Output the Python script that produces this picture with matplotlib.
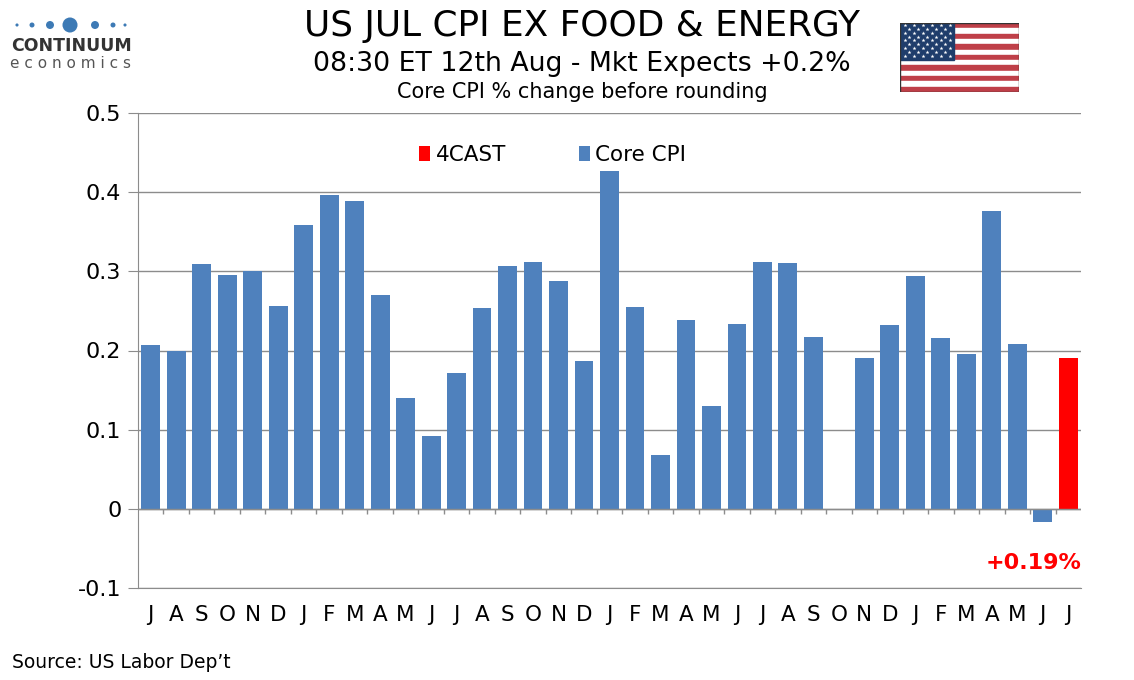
import numpy as np
import matplotlib
matplotlib.use("Agg")
import matplotlib.pyplot as plt
from matplotlib.patches import Rectangle

# data
months = ["J", "A", "S", "O", "N", "D", "J", "F", "M", "A", "M", "J",
          "J", "A", "S", "O", "N", "D", "J", "F", "M", "A", "M", "J",
          "J", "A", "S", "O", "N", "D", "J", "F", "M", "A", "M", "J", "J"]
core_cpi = [0.207, 0.200, 0.309, 0.295, 0.300, 0.256, 0.358, 0.396, 0.389, 0.270,
            0.140, 0.092, 0.172, 0.254, 0.307, 0.312, 0.288, 0.187, 0.427, 0.255,
            0.068, 0.238, 0.130, 0.233, 0.312, 0.310, 0.217, np.nan, 0.190, 0.232,
            0.294, 0.216, 0.196, 0.376, 0.208, -0.017, np.nan]
forecast = [np.nan] * 36 + [0.19]
forecast_label = "+0.19%"

blue = "#4f81bd"
red = "#ff0000"
grid_c = "#8c8c8c"

plt.rcParams['font.family'] = ['DejaVu Sans']

fig = plt.figure(figsize=(11.34, 6.8), dpi=100)
ax = fig.add_axes([138/1134, 1-588/680, (1081-138)/1134, (588-113)/680])

x = np.arange(len(months))
ax.bar(x, forecast, width=0.74, color=red, label="4CAST", zorder=3)
ax.bar(x, core_cpi, width=0.74, color=blue, label="Core CPI", zorder=3)

ax.set_xlim(-0.5, len(months) - 0.5)
ax.set_ylim(-0.1, 0.5)
ax.set_yticks(np.arange(-0.1, 0.51, 0.1))
ax.set_yticklabels(["-0.1", "0", "0.1", "0.2", "0.3", "0.4", "0.5"])
ax.yaxis.grid(True, color=grid_c, lw=1.0, zorder=0)
ax.axhline(0, color=grid_c, lw=1.0, zorder=4)

# category boundary ticks on the zero line
bounds = np.arange(len(months) + 1) - 0.5
ax.vlines(bounds[1:-1], -0.007, 0, color=grid_c, lw=1.0, zorder=4)

ax.set_xticks(x)
ax.set_xticklabels(months, fontsize=15.5)
ax.tick_params(axis='x', length=0, pad=12)
ax.tick_params(axis='y', labelsize=16, length=7, color=grid_c, pad=5)

for s in ["top", "right"]:
    ax.spines[s].set_visible(False)
ax.spines["left"].set_color(grid_c)
ax.spines["bottom"].set_color(grid_c)

leg = ax.legend(loc="center", bbox_to_anchor=(0.44, 0.912), ncol=2, frameon=False,
                fontsize=15.5, handlelength=0.5, handleheight=0.7, handletextpad=0.25,
                columnspacing=3.4, borderpad=0, borderaxespad=0)

ax.text(len(months) - 0.5, -0.068, forecast_label, color=red, fontsize=16,
        fontweight="bold", ha="right", va="center")

# titles
fig.text(582/1134, 1-26/680, "US JUL CPI EX FOOD & ENERGY", fontsize=25.8,
         ha="center", va="center")
fig.text(582/1134, 1-64/680, "08:30 ET 12th Aug - Mkt Expects +0.2%", fontsize=19.3,
         ha="center", va="center")
fig.text(582/1134, 1-92/680, "Core CPI % change before rounding", fontsize=15,
         ha="center", va="center")
fig.text(12/1134, 1-663/680, "Source: US Labor Dep\u2019t", fontsize=13.5,
         ha="left", va="center")

# logo
lax = fig.add_axes([0, 1-34/680, 140/1134, 18/680])
lax.set_xlim(0, 140)
lax.set_ylim(0, 1)
lax.axis("off")
dot_x = [17, 32, 50, 70, 95, 113, 125]
dot_s = [5, 13, 33, 117, 33, 13, 5]
lax.scatter(dot_x, [0.5] * 7, s=dot_s, color="#3d7ab5", lw=0)
fig.text(71/1134, 1-46/680, "CONTINUUM", fontsize=12.5, fontweight="bold",
         color="#333333", ha="center", va="center")
fig.text(71/1134, 1-64/680, "e c o n o m i c s", fontsize=11, color="#555555",
         ha="center", va="center")

# flag
fax = fig.add_axes([900/1134, 1-92/680, 119/1134, 69/680])
fax.set_xlim(0, 1.9)
fax.set_ylim(0, 13)
fax.axis("off")
for i in range(13):
    fax.add_patch(Rectangle((0, 12 - i), 1.9, 1, color="#bf3f48" if i % 2 == 0 else "white"))
cw = 0.865
fax.add_patch(Rectangle((0, 6), cw, 7, color="#1f3d6b"))
sx, sy = [], []
for r in range(9):
    n = 6 if r % 2 == 0 else 5
    off = cw / 12 if r % 2 == 0 else cw / 6
    for c in range(n):
        sx.append(off + c * cw / 6)
        sy.append(12.6 - r * 0.72)
fax.scatter(sx, sy, s=9, marker="*", color="white", lw=0)
fax.add_patch(Rectangle((0, 0), 1.9, 13, fill=False, ec="#333333", lw=1.0))

fig.savefig("out.png", dpi=100)
